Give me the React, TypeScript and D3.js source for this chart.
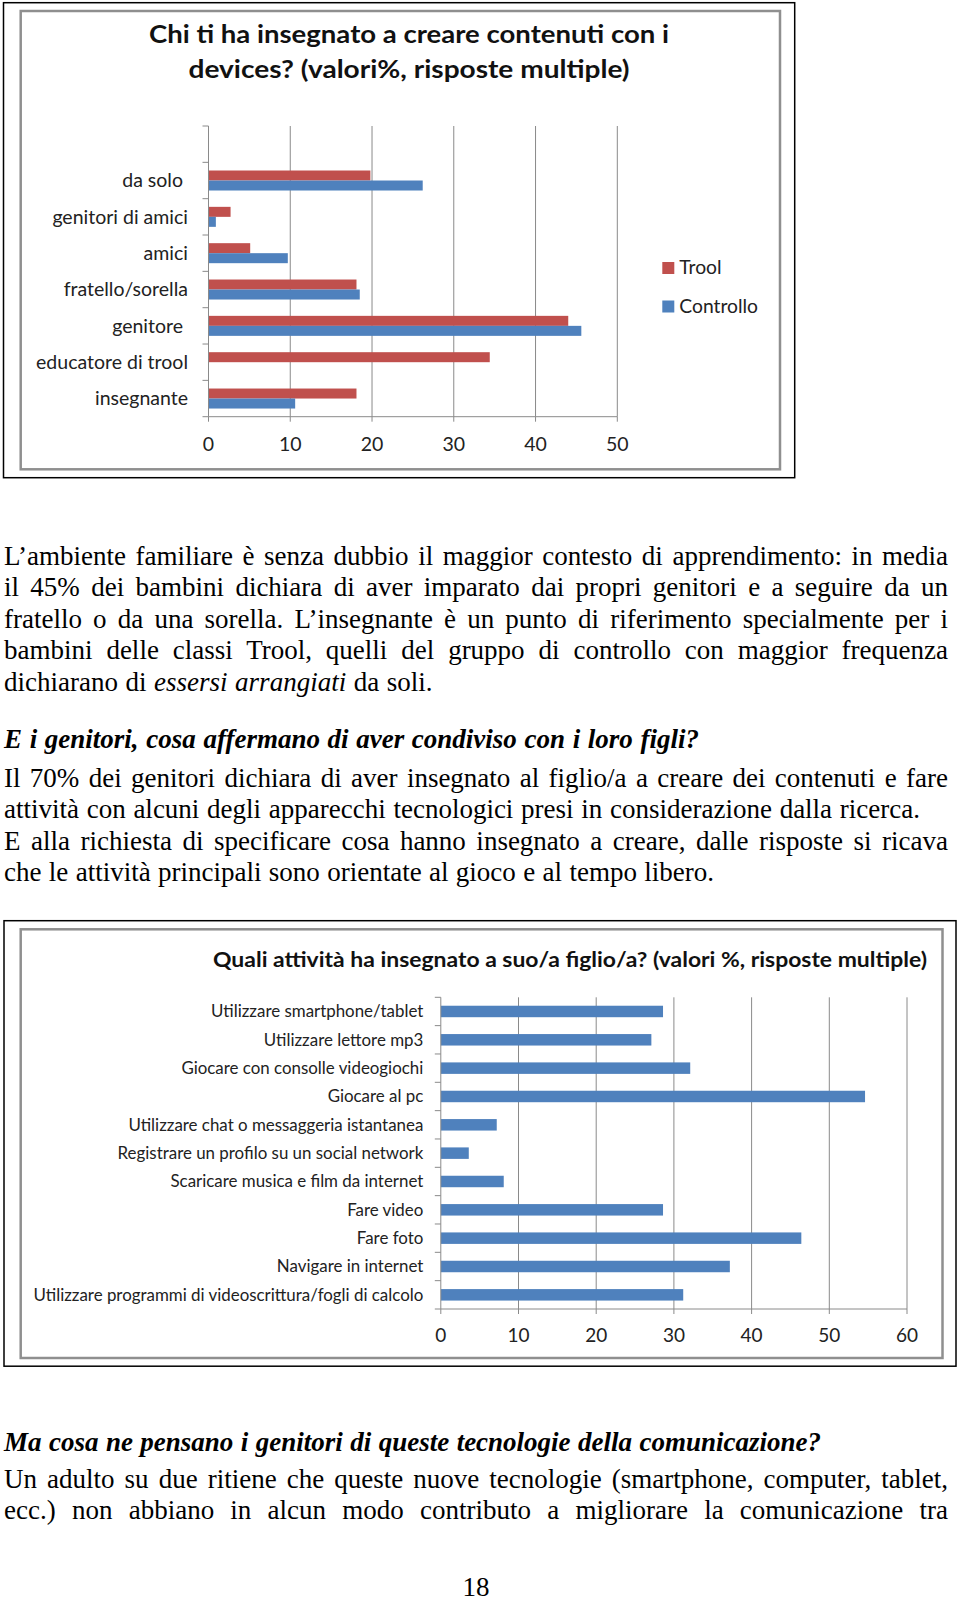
import React, { useEffect, useRef } from 'react';
import * as d3 from 'd3';

// ---------- Chart 1 data ----------
const chart1Title = ['Chi ti ha insegnato a creare contenuti con i', 'devices? (valori%, risposte multiple)'];
const chart1Categories = ['', 'da solo ', 'genitori di amici', 'amici', 'fratello/sorella', 'genitore ', 'educatore di trool', 'insegnante'];
const chart1Series = ['Trool', 'Controllo'];
const troolValues = [0, 19.8, 2.7, 5.1, 18.1, 44.0, 34.4, 18.1];
const controlloValues = [0, 26.2, 0.9, 9.7, 18.5, 45.6, 0, 10.6];
const chart1Ticks = [0, 10, 20, 30, 40, 50];

// ---------- Chart 2 data ----------
const chart2Title = 'Quali attività ha insegnato a suo/a figlio/a? (valori %, risposte multiple)';
const chart2Categories = [
  'Utilizzare smartphone/tablet',
  'Utilizzare lettore mp3',
  'Giocare con consolle videogiochi',
  'Giocare al pc',
  'Utilizzare chat o messaggeria istantanea',
  'Registrare un profilo su un social network',
  'Scaricare musica e film da internet',
  'Fare video',
  'Fare foto',
  'Navigare in internet',
  'Utilizzare programmi di videoscrittura/fogli di calcolo',
];
const chart2Values = [28.6, 27.1, 32.1, 54.6, 7.2, 3.6, 8.1, 28.6, 46.4, 37.2, 31.2];
const chart2Ticks = [0, 10, 20, 30, 40, 50, 60];

// ---------- Page text ----------
type Seg = [string, boolean];
const para1: Seg[][] = [
  [['L’ambiente familiare è senza dubbio il maggior contesto di apprendimento: in media', false]],
  [['il 45% dei bambini dichiara di aver imparato dai propri genitori e a seguire da un', false]],
  [['fratello o da una sorella. L’insegnante è un punto di riferimento specialmente per i', false]],
  [['bambini delle classi Trool, quelli del gruppo di controllo con maggior frequenza', false]],
  [['dichiarano di ', false], ['essersi arrangiati', true], [' da soli.', false]],
];
const heading1 = 'E i genitori, cosa affermano di aver condiviso con i loro figli?';
const para2: Seg[][] = [
  [['Il 70% dei genitori dichiara di aver insegnato al figlio/a a creare dei contenuti e fare', false]],
  [['attività con alcuni degli apparecchi tecnologici presi in considerazione dalla ricerca.', false]],
  [['E alla richiesta di specificare cosa hanno insegnato a creare, dalle risposte si ricava', false]],
  [['che le attività principali sono orientate al gioco e al tempo libero.', false]],
];
const heading2 = 'Ma cosa ne pensano i genitori di queste tecnologie della comunicazione?';
const para3: Seg[][] = [
  [['Un adulto su due ritiene che queste nuove tecnologie (smartphone, computer, tablet,', false]],
  [['ecc.) non abbiano in alcun modo contributo a migliorare la comunicazione tra', false]],
];
const pageNumber = '18';

// right end of each line (full lines are justified to the right margin)
const TEXT_LEFT = 4;
const TEXT_RIGHT = 948;
const para1Ends = [TEXT_RIGHT, TEXT_RIGHT, TEXT_RIGHT, TEXT_RIGHT, 432.5];
const para2Ends = [TEXT_RIGHT, 920, TEXT_RIGHT, 714];
const heading1End = 699;
const heading2End = 821;

const RED = '#C0504D';
const BLUE = '#4F81BD';
const GRID = '#8a8a8a';
const CHART_FONT = 'Lato, "Noto Sans", sans-serif';
const SERIF = '"Liberation Serif", "Times New Roman", serif';

function Chart1() {
  const x = d3.scaleLinear().domain([0, 50]).range([208.5, 617.3]);
  const y = d3.scaleBand<string>().domain(chart1Categories).range([126, 416.7]).paddingInner(0).paddingOuter(0);
  const ySub = d3.scaleBand<string>().domain(chart1Series).range([0, y.bandwidth()]).paddingInner(0).paddingOuter(0.8167);
  const [y0, y1] = y.range();
  const boundaries = chart1Categories.map((c) => y(c)!).concat([y1]);
  const series = [
    { name: chart1Series[0], values: troolValues, color: RED },
    { name: chart1Series[1], values: controlloValues, color: BLUE },
  ];
  return (
    <g>
      <rect x={3.5} y={2.7} width={791.2} height={475} fill="#fff" stroke="#000" strokeWidth={1.5} />
      <rect x={20.7} y={11} width={759.3} height={458.3} fill="#fff" stroke="#8f8f8f" strokeWidth={2.5} />
      {chart1Title.map((t, i) => (
        <text key={i} x={409} y={42.5 + i * 35.8} textAnchor="middle" fontFamily={CHART_FONT} fontWeight="bold" fontSize={25.5} fill="#111"
          textLength={i === 0 ? 520 : 441} lengthAdjust="spacingAndGlyphs">{t}</text>
      ))}
      {chart1Ticks.filter((t) => t > 0).map((t) => (
        <line key={t} x1={x(t)} x2={x(t)} y1={y0} y2={y1} stroke={GRID} strokeWidth={1} />
      ))}
      {series.map((s) => (
        <g key={s.name}>
          {chart1Categories.map((c, i) => (
            s.values[i] > 0 ? (
              <rect key={c + i} x={x(0)} y={y(c)! + ySub(s.name)!} width={x(s.values[i]) - x(0)} height={ySub.bandwidth()} fill={s.color} />
            ) : null
          ))}
        </g>
      ))}
      <line x1={x(0)} x2={x(0)} y1={y0} y2={y1} stroke={GRID} strokeWidth={1} />
      <line x1={x(0)} x2={x(50)} y1={y1} y2={y1} stroke={GRID} strokeWidth={1} />
      {boundaries.map((b, i) => (
        <line key={i} x1={x(0) - 6} x2={x(0)} y1={b} y2={b} stroke={GRID} strokeWidth={1} />
      ))}
      {chart1Ticks.map((t) => (
        <g key={t}>
          <line x1={x(t)} x2={x(t)} y1={y1} y2={y1 + 5} stroke={GRID} strokeWidth={1} />
          <text x={x(t)} y={451} textAnchor="middle" fontFamily={CHART_FONT} fontSize={19.5} fill="#222">{t}</text>
        </g>
      ))}
      {chart1Categories.map((c) => (
        <text key={c} x={188} y={y(c)! + y.bandwidth() / 2 + 6.8} textAnchor="end" fontFamily={CHART_FONT} fontSize={19.5} fill="#222" style={{ whiteSpace: 'pre' }}>{c}</text>
      ))}
      {series.map((s, i) => (
        <g key={s.name}>
          <rect x={662.3} y={262 + i * 38.5} width={12} height={12} fill={s.color} />
          <text x={679.3} y={274 + i * 38.5} fontFamily={CHART_FONT} fontSize={19.3} fill="#222">{s.name}</text>
        </g>
      ))}
    </g>
  );
}

function Chart2() {
  const x = d3.scaleLinear().domain([0, 60]).range([440.8, 907]);
  const y = d3.scaleBand<string>().domain(chart2Categories).range([997.3, 1309]).paddingInner(0).paddingOuter(0);
  const [y0, y1] = y.range();
  const barH = y.bandwidth() * 0.405;
  const boundaries = chart2Categories.map((c) => y(c)!).concat([y1]);
  return (
    <g>
      <rect x={4} y={920.7} width={952} height={445.5} fill="#fff" stroke="#000" strokeWidth={1.5} />
      <rect x={20.7} y={929.3} width={921.8} height={428.7} fill="#fff" stroke="#8f8f8f" strokeWidth={2.5} />
      <text x={213} y={966.5} fontFamily={CHART_FONT} fontWeight="bold" fontSize={21} fill="#111" textLength={714} lengthAdjust="spacingAndGlyphs">{chart2Title}</text>
      {chart2Ticks.filter((t) => t > 0).map((t) => (
        <line key={t} x1={x(t)} x2={x(t)} y1={y0} y2={y1} stroke={GRID} strokeWidth={1} />
      ))}
      {chart2Categories.map((c, i) => (
        <rect key={c} x={x(0)} y={y(c)! + (y.bandwidth() - barH) / 2} width={x(chart2Values[i]) - x(0)} height={barH} fill={BLUE} />
      ))}
      <line x1={x(0)} x2={x(0)} y1={y0} y2={y1} stroke={GRID} strokeWidth={1} />
      <line x1={x(0)} x2={x(60)} y1={y1} y2={y1} stroke={GRID} strokeWidth={1} />
      {boundaries.map((b, i) => (
        <line key={i} x1={x(0) - 6} x2={x(0)} y1={b} y2={b} stroke={GRID} strokeWidth={1} />
      ))}
      {chart2Ticks.map((t) => (
        <g key={t}>
          <line x1={x(t)} x2={x(t)} y1={y1} y2={y1 + 5} stroke={GRID} strokeWidth={1} />
          <text x={x(t)} y={1342} textAnchor="middle" fontFamily={CHART_FONT} fontSize={19} fill="#222">{t}</text>
        </g>
      ))}
      {chart2Categories.map((c) => (
        <text key={c} x={423.3} y={y(c)! + y.bandwidth() / 2 + 6} textAnchor="end" fontFamily={CHART_FONT} fontSize={16.9} fill="#222">{c}</text>
      ))}
    </g>
  );
}

function Line({ segs, y, end, bold }: { segs: Seg[]; y: number; end: number; bold?: boolean }) {
  return (
    <text x={TEXT_LEFT} y={y} fontFamily={SERIF} fontSize={27} fill="#000" fontWeight={bold ? 'bold' : 'normal'}
      fontStyle={bold ? 'italic' : 'normal'} data-width={end - TEXT_LEFT} style={{ whiteSpace: 'pre' }}>
      {segs.map(([s, it], i) => (
        <tspan key={i} fontStyle={it || bold ? 'italic' : 'normal'}>{s}</tspan>
      ))}
    </text>
  );
}

export default function App() {
  const ref = useRef<SVGSVGElement>(null);
  useEffect(() => {
    const justify = () => {
      if (!ref.current) return;
      d3.select(ref.current).selectAll<SVGTextElement, unknown>('text[data-width]').each(function () {
        const el = this;
        const target = +(el.getAttribute('data-width') || 0);
        el.setAttribute('word-spacing', '0');
        const natural = el.getComputedTextLength();
        const spaces = (el.textContent || '').trim().split(/ +/).length - 1;
        if (spaces > 0) el.setAttribute('word-spacing', String((target - natural) / spaces));
      });
    };
    justify();
    if ((document as any).fonts && (document as any).fonts.ready) (document as any).fonts.ready.then(justify);
  }, []);

  const p1Base = 565;
  const lh = 31.4;
  const p2Base = 786.8;
  return (
    <svg ref={ref} width={960} height={1601} style={{ position: 'absolute', left: 0, top: 0, background: '#fff' }}>
      <rect x={0} y={0} width={960} height={1601} fill="#fff" />
      <Chart1 />
      {para1.map((segs, i) => (
        <Line key={'p1' + i} segs={segs} y={p1Base + i * lh} end={para1Ends[i]} />
      ))}
      <Line segs={[[heading1, true]]} y={747.5} end={heading1End} bold />
      {para2.map((segs, i) => (
        <Line key={'p2' + i} segs={segs} y={p2Base + i * lh} end={para2Ends[i]} />
      ))}
      <Chart2 />
      <Line segs={[[heading2, true]]} y={1451} end={heading2End} bold />
      {para3.map((segs, i) => (
        <Line key={'p3' + i} segs={segs} y={1487.5 + i * lh} end={TEXT_RIGHT} />
      ))}
      <text x={476} y={1596} textAnchor="middle" fontFamily={SERIF} fontSize={27} fill="#000">{pageNumber}</text>
    </svg>
  );
}
